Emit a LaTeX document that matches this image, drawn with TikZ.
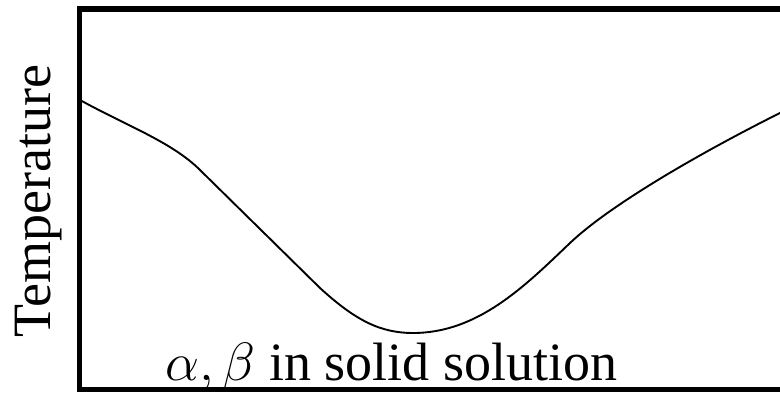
\RequirePackage{fix-cm}
\documentclass[tikz,border=0pt]{standalone}
\usepackage{fontspec}
\setmainfont{Liberation Serif}
\begin{document}
\begin{tikzpicture}[x=1pt, y=-1pt, every node/.style={font=\fontsize{54}{64}\selectfont, inner sep=0pt}]
      % page frame
      \useasboundingbox (0,0) rectangle (780,393);
      \clip (0,0) rectangle (780,393);
      % plot frame (right side runs off the page)
      \draw[line width=5.5pt] (795,9) -- (79.5,9) -- (79.5,389.5) -- (795,389.5);

      % axis label
      \node[rotate=90, anchor=base] (temp) at (50,201) {Temperature};

      % solidus curve: falls to a minimum and rises again
      \coordinate (L) at (80,100);    % left end
      \coordinate (P) at (200,170);   % left bend
      \coordinate (Q) at (320,288);
      \coordinate (M) at (413,333);   % minimum
      \coordinate (R) at (570,243);   % right bend
      \coordinate (E) at (780,113);   % right end
      \draw[line width=1.9pt] (L) .. controls (125,125) and (172,142) .. (P)
        -- (Q) .. controls (355,320) and (380,333) .. (M)
        .. controls (478,333) and (525,286) .. (R)
        .. controls (610,205) and (700,153) .. (E) -- (800,103);

      % phase label
      \node[anchor=base west] (phase) at (165,380) {$\alpha,\beta$ in solid solution};
\end{tikzpicture}
\end{document}
